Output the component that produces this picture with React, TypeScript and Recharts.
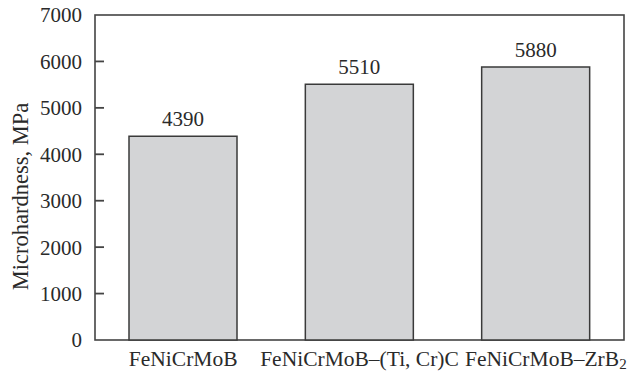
import React from 'react'
import { BarChart, Bar, XAxis, YAxis, LabelList, Label, ReferenceArea } from 'recharts'

const coatings = ['FeNiCrMoB', 'FeNiCrMoB–(Ti, Cr)C', 'FeNiCrMoB–ZrB₂']
const hardness = [4390, 5510, 5880]
const yTicks = [0, 1000, 2000, 3000, 4000, 5000, 6000, 7000]
const yMax = 7000

const data = coatings.map((name, i) => ({ name, value: hardness[i] }))

const font = 'Liberation Serif, Times New Roman, serif'
const ink = '#2a2a2a'
const frame = '#444'

// rotated axis title, placed left of the tick labels
const YTitle = (props: any) => {
  const { viewBox } = props
  const x = viewBox.x + 20
  const y = viewBox.y + viewBox.height / 2 + 19
  return (
    <text
      x={x}
      y={y}
      transform={`rotate(-90 ${x} ${y})`}
      textAnchor="middle"
      dominantBaseline="central"
      fontFamily={font}
      fontSize={22.5}
      fill={ink}
    >
      Microhardness, MPa
    </text>
  )
}

// box round the plot, with the y ticks pointing inwards
const Frame = (props: any) => {
  const { x, y, width, height } = props
  const inner = yTicks.filter((t) => t > 0 && t < yMax)
  return (
    <g>
      <rect x={x} y={y} width={width} height={height} fill="none" stroke={frame} strokeWidth={1.6} />
      {inner.map((t) => {
        const ty = y + height * (1 - t / yMax)
        return (
          <line key={t} x1={x} x2={x + 9} y1={ty} y2={ty} stroke={frame} strokeWidth={1.8} />
        )
      })}
    </g>
  )
}

// x tick: chemical subscript drawn smaller and lowered
const XTick = (props: any) => {
  const { x, y, payload } = props
  const label: string = payload.value
  const sub = label.endsWith('₂')
  const main = sub ? label.slice(0, -1) : label
  return (
    <text
      x={x + (sub ? 10 : 0)}
      y={y}
      dy="0.71em"
      textAnchor="middle"
      fontFamily={font}
      fontSize={21.5}
      fill={ink}
    >
      {main}
      {sub && (
        <tspan fontSize={15} dy={3}>
          2
        </tspan>
      )}
    </text>
  )
}

export default function App() {
  return (
    <div style={{ position: 'absolute', left: 0, top: 0, background: '#fff' }}>
      <BarChart
        width={632}
        height={371}
        data={data}
        margin={{ top: 15, right: 8, left: 0, bottom: 0 }}
      >
        <XAxis
          dataKey="name"
          height={31}
          tickLine={false}
          tickSize={0}
          tickMargin={11}
          axisLine={false}
          tick={<XTick />}
          interval={0}
        />
        <YAxis
          width={95}
          domain={[0, yMax]}
          ticks={yTicks}
          interval={0}
          tickSize={0}
          tickMargin={13}
          tickLine={false}
          axisLine={false}
          tick={{ fill: ink, fontFamily: font, fontSize: 21 }}
        >
          <Label content={YTitle} />
        </YAxis>
        <Bar
          dataKey="value"
          barSize={108}
          fill="#d3d4d6"
          stroke="#3a3a3a"
          strokeWidth={1.5}
          isAnimationActive={false}
        >
          <LabelList
            dataKey="value"
            position="top"
            offset={10}
            fill={ink}
            fontFamily={font}
            fontSize={21}
          />
        </Bar>
        <ReferenceArea y1={0} y2={yMax} ifOverflow="visible" shape={<Frame />} />
      </BarChart>
    </div>
  )
}
